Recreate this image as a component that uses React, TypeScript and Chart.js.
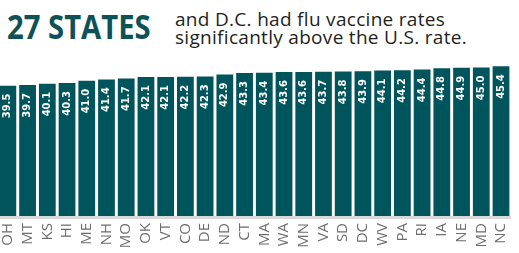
import React, { useEffect, useRef } from "react";
import { Chart, registerables } from "chart.js";

Chart.register(...registerables);

const states = ["OH","MT","KS","HI","ME","NH","MO","OK","VT","CO","DE","ND","CT","MA","WA","MN","VA","SD","DC","WV","PA","RI","IA","NE","MD","NC"];
const rates = [39.5,39.7,40.1,40.3,41.0,41.4,41.7,42.1,42.1,42.2,42.3,42.9,43.3,43.4,43.6,43.6,43.7,43.8,43.9,44.1,44.2,44.4,44.8,44.9,45.0,45.4];
const titleText = "27 STATES";
const subtitleLines = ["and D.C. had flu vaccine rates", "significantly above the U.S. rate."];

const BAR = "#00545c";

const valueLabels = {
  id: "valueLabels",
  beforeDatasetsDraw(chart: any) {
    const { ctx, chartArea } = chart;
    ctx.save();
    ctx.fillStyle = "#d9d9d9";
    ctx.fillRect(chartArea.left, chartArea.bottom, chartArea.right - chartArea.left, 3);
    ctx.restore();
  },
  afterDatasetsDraw(chart: any) {
    const ctx = chart.ctx;
    const meta = chart.getDatasetMeta(0);
    ctx.save();
    ctx.fillStyle = "#ffffff";
    ctx.font = "bold 10px 'DejaVu Sans'";
    meta.data.forEach((bar: any, i: number) => {
      ctx.save();
      ctx.translate(bar.x, bar.y + 8);
      ctx.rotate(-Math.PI / 2);
      ctx.textAlign = "right";
      ctx.textBaseline = "middle";
      ctx.fillText(rates[i].toFixed(1), 0, 0);
      ctx.restore();
    });
    ctx.restore();
  },
};

export default function App() {
  const ref = useRef<HTMLCanvasElement | null>(null);
  useEffect(() => {
    if (!ref.current) return;
    const chart = new Chart(ref.current, {
      type: "bar",
      data: {
        labels: states,
        datasets: [
          {
            data: rates,
            backgroundColor: BAR,
            borderWidth: 0,
            barPercentage: 0.85,
            categoryPercentage: 1,
          },
        ],
      },
      options: {
        responsive: false,
        animation: false,
        layout: { padding: { top: 51, left: 0, right: 0, bottom: 0 } },
        plugins: { legend: { display: false }, tooltip: { enabled: false } },
        scales: {
          y: { display: false, min: 0, max: 50 },
          x: {
            grid: { display: false },
            border: { display: false },
            ticks: {
              autoSkip: false,
              minRotation: 90,
              maxRotation: 90,
              padding: -1,
              color: "#6d6d6d",
              font: { family: "'Open Sans'", size: 15 },
            },
            afterFit: (scale: any) => {
              scale.height = 37;
            },
          },
        },
      },
      plugins: [valueLabels],
    });
    return () => chart.destroy();
  }, []);

  return (
    <div style={{ position: "absolute", left: 0, top: 0, width: 519, height: 253, overflow: "hidden", background: "#fff" }}>
      <div
        style={{
          position: "absolute",
          left: 7,
          top: 9,
          fontFamily: "'Open Sans'",
          fontWeight: 700,
          fontSize: 34,
          lineHeight: "34px",
          color: "#0e5157",
          whiteSpace: "nowrap",
          transform: "scaleX(0.86)",
          transformOrigin: "left top",
        }}
      >
        {titleText}
      </div>
      <div
        style={{
          position: "absolute",
          left: 175,
          top: 10,
          fontFamily: "'Open Sans'",
          fontSize: 19,
          lineHeight: "18px",
          letterSpacing: "0.3px",
          color: "#231f20",
          whiteSpace: "nowrap",
        }}
      >
        {subtitleLines.map((l, i) => (
          <div key={i}>{l}</div>
        ))}
      </div>
      <canvas ref={ref} width={520} height={253} style={{ position: "absolute", left: -2, top: 0, width: 520, height: 253 }} />
    </div>
  );
}
